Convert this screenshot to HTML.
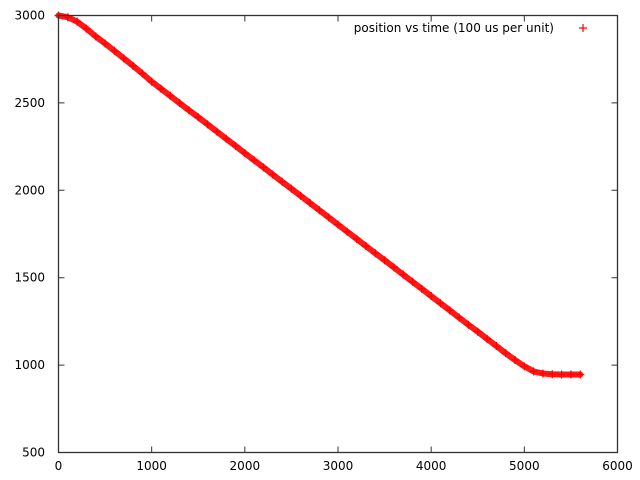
<!DOCTYPE html>
<html><head><meta charset="utf-8"><style>
body{margin:0;background:#fff}
svg{display:block;font-family:"DejaVu Sans","Liberation Sans",sans-serif;font-size:12px}
</style></head><body>
<svg id="chart" width="640" height="480" viewBox="0 0 640 480"></svg>
<script>
const xTicks=[0,1000,2000,3000,4000,5000,6000];
const yTicks=[500,1000,1500,2000,2500,3000];
const times=[0,100,200,300,400,500,600,700,800,900,1000,1100,1200,1300,1400,1500,1600,1700,1800,1900,2000,2100,2200,2300,2400,2500,2600,2700,2800,2900,3000,3100,3200,3300,3400,3500,3600,3700,3800,3900,4000,4100,4200,4300,4400,4500,4600,4700,4800,4900,5000,5100,5200,5300,5400,5500,5600];
const positions=[3000,2990,2965,2925,2880,2840,2798,2755,2712,2668,2622,2581,2540,2499,2458,2418,2377,2336,2295,2254,2213,2172,2131,2090,2049,2009,1968,1927,1886,1845,1804,1763,1722,1681,1640,1600,1559,1518,1477,1436,1395,1354,1313,1272,1231,1191,1150,1109,1068,1029,993,964,952,948,946,946,946];
const L=58.5,R=617.5,T=15.5,B=452.5;
const sx=v=>L+(v-0)/6000*(R-L);
const sy=v=>B-(v-500)/2500*(B-T);
const svg=document.getElementById('chart');
const NS='http://www.w3.org/2000/svg';
function mk(t,a,txt){const e=document.createElementNS(NS,t);for(const k in a)e.setAttribute(k,a[k]);if(txt!=null)e.textContent=txt;svg.appendChild(e);return e;}
// series line (dense markers appear as thick band)
let d='';times.forEach((t,i)=>{d+=(i?'L':'M')+sx(t).toFixed(1)+','+sy(positions[i]).toFixed(1);});
const line=mk('path',{d:d,fill:'none',stroke:'#ff0000','stroke-width':6,'stroke-linejoin':'round','stroke-linecap':'round','stroke-opacity':0.9});


times.forEach((t,i)=>{const x=sx(t),y=sy(positions[i]);
const m=mk('path',{d:`M${x-4},${y}h8M${x},${y-4}v8`,stroke:'#ff0000','stroke-width':1.2});

});
// axes box
const box=mk('rect',{x:L,y:T,width:R-L,height:B-T,fill:'none',stroke:'#333','stroke-width':1.3});


xTicks.forEach(v=>{const x=sx(v);
mk('path',{d:`M${x},${B}v-6M${x},${T}v6`,stroke:'#333','stroke-width':1});
const t=mk('text',{x:x,y:470,'text-anchor':'middle',fill:'#000'},v);

});
yTicks.forEach(v=>{const y=sy(v);
mk('path',{d:`M${L},${y}h6M${R},${y}h-6`,stroke:'#333','stroke-width':1});
const t=mk('text',{x:45,y:y+4,'text-anchor':'end',fill:'#000'},v);

});
const lg=mk('text',{x:554,y:32,'text-anchor':'end',fill:'#000'},'position vs time (100 us per unit)');


const lm=mk('path',{d:'M579,28h8M583,24v8',stroke:'#ff0000','stroke-width':1.2});


</script>
</body></html>
